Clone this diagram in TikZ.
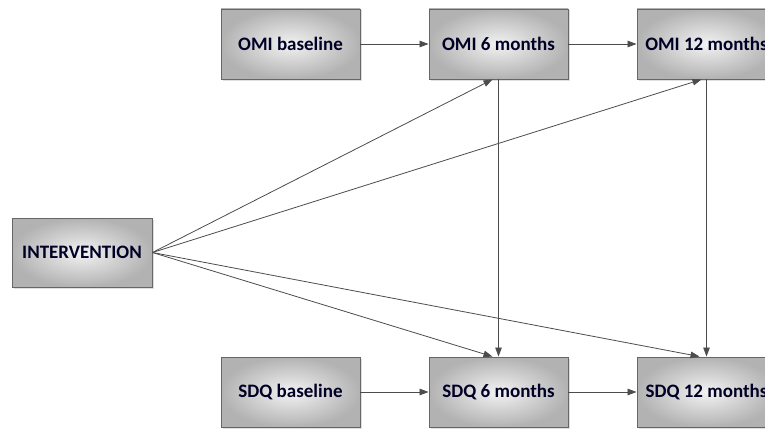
\documentclass[tikz,border=0pt]{standalone}
\usepackage{fontspec}
\setmainfont{Carlito}
\usetikzlibrary{arrows.meta,shadows}
\begin{document}
\begin{tikzpicture}[x=1pt,y=1pt,
  box/.style={draw=black!60, line width=0.9pt, inner color=black!5, outer color=black!30,
    minimum width=139pt, minimum height=70pt, inner sep=0pt, font=\bfseries\fontsize{19}{21}\selectfont,
    text=black!85!blue, drop shadow={opacity=0.25, shadow xshift=1.5pt, shadow yshift=-1.5pt}},
  conn/.style={draw=black!70, line width=0.8pt, -{Triangle[length=9pt,width=6.5pt]}}]
\useasboundingbox (0,0) rectangle (765,-428);
\begin{scope}
\clip (0,0) rectangle (765,-428);
\node[box] (omib) at (290.5,-44) {OMI baseline};
\node[box] (omi6) at (498.5,-44) {OMI 6 months};
\node[box] (omi12) at (706.5,-44) {OMI 12 months};
\node[box, minimum width=140pt, minimum height=69pt] (int) at (82,-252.5) {INTERVENTION};
\node[box] (sdqb) at (290.5,-392) {SDQ baseline};
\node[box] (sdq6) at (498.5,-392) {SDQ 6 months};
\node[box] (sdq12) at (706.5,-392) {SDQ 12 months};
\draw[conn] (omib) -- (omi6);
\draw[conn] (omi6) -- (omi12);
\draw[conn] (sdqb) -- (sdq6);
\draw[conn] (sdq6) -- (sdq12);
\draw[conn] (omi6.south) -- (sdq6.north);
\draw[conn] (omi12.south) -- (sdq12.north);
\draw[conn] (int.east) -- ([xshift=-6pt]omi6.south);
\draw[conn] (int.east) -- ([xshift=-5pt]omi12.south);
\draw[conn] (int.east) -- ([xshift=-6pt]sdq6.north);
\draw[conn] (int.east) -- ([xshift=-7pt]sdq12.north);
\end{scope}
\end{tikzpicture}
\end{document}
